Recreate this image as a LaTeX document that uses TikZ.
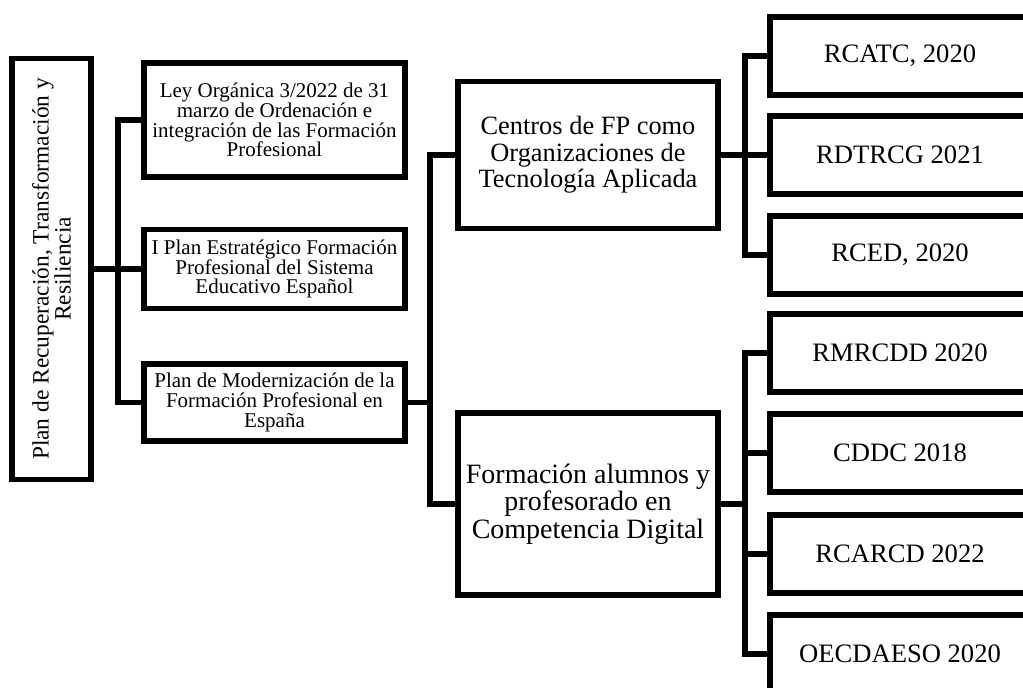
\documentclass[tikz,border=0pt]{standalone}
\usepackage{fontspec}
\setmainfont{Liberation Serif}

\begin{document}
\begin{tikzpicture}[
  x=0.5pt,
  y=-0.5pt,
  box/.style={draw, line width=2.6pt, inner sep=0pt, outer sep=0pt, align=center},
  rootbox/.style={box, minimum width=39.5pt, minimum height=210.5pt},
  law/.style={box, minimum width=130.5pt, font=\fontsize{10.5}{9.8}\selectfont},
  strand/.style={box, minimum width=130pt, font=\fontsize{13.2}{13.2}\selectfont},
  % these run off the right edge, so the label is pulled back left
  ref/.style={draw, line width=2.6pt, inner sep=0pt, outer sep=0pt, minimum width=160pt,
    minimum height=39pt, font=\fontsize{13.3}{14}\selectfont, execute at end node=\hspace*{30pt}},
  branch/.style={line width=2.6pt}
]
  \useasboundingbox (0,0) rectangle (1023,687);
  \clip (0,0) rectangle (1023,687);

  % plan
  \node[rootbox] (root) at (51.5, 269) {};
  \node[rotate=90, align=center, font=\fontsize{11.7}{11}\selectfont] (rootlabel) at (root.center)
    {Plan de Recuperación, Transformación y\\Resiliencia};

  % normativa
  \node[law, minimum height=57pt] (ley) at (274.5, 120)
    {Ley Orgánica 3/2022 de 31\\marzo de Ordenación e\\integración de las Formación\\Profesional};
  \node[law, minimum height=39.5pt] (iplan) at (274.5, 269)
    {I Plan Estratégico Formación\\Profesional del Sistema\\Educativo Español};
  \node[law, minimum height=38.5pt] (plmod) at (274.5, 402.5)
    {Plan de Modernización de la\\Formación Profesional en\\España};

  % lineas de actuacion
  \node[strand, minimum height=73.5pt] (centros) at (588, 155)
    {Centros de FP como\\Organizaciones de\\Tecnología Aplicada};
  \node[strand, minimum height=91pt, font=\fontsize{14}{13.8}\selectfont] (formac) at (588, 504)
    {Formación alumnos y\\profesorado en\\Competencia Digital};

  % referencias
  \node[ref] (rcatc)  at (930, 56)  {RCATC, 2020};
  \node[ref] (rdtrcg) at (930, 155) {RDTRCG 2021};
  \node[ref] (rced)   at (930, 255) {RCED, 2020};

  \node[ref] (rmrcdd) at (930, 353) {RMRCDD 2020};
  \node[ref] (cddc)   at (930, 453) {CDDC 2018};
  \node[ref] (rcarcd) at (930, 554) {RCARCD 2022};
  \node[ref] (oecd)   at (930, 654) {OECDAESO 2020};

  % buses
  \coordinate (bus1) at (118, 269);
  \coordinate (bus2) at (430, 402.5);
  \coordinate (bus3) at (745, 155);
  \coordinate (bus4) at (745, 504);

  \draw[branch] (root.east) -- (iplan.west);
  \draw[branch] (ley.west) -| (bus1) |- (plmod.west);

  \draw[branch] (plmod.east) -- (bus2);
  \draw[branch] (centros.west) -| (bus2) |- (formac.west);

  \draw[branch] (centros.east) -- (rdtrcg.west);
  \draw[branch] (rcatc.west) -| (bus3) |- (rced.west);

  \draw[branch] (formac.east) -- (bus4);
  \draw[branch] (rmrcdd.west) -| (bus4) |- (oecd.west);
  \draw[branch] (cddc.west) -- (cddc.west -| bus4);
  \draw[branch] (rcarcd.west) -- (rcarcd.west -| bus4);
\end{tikzpicture}
\end{document}
